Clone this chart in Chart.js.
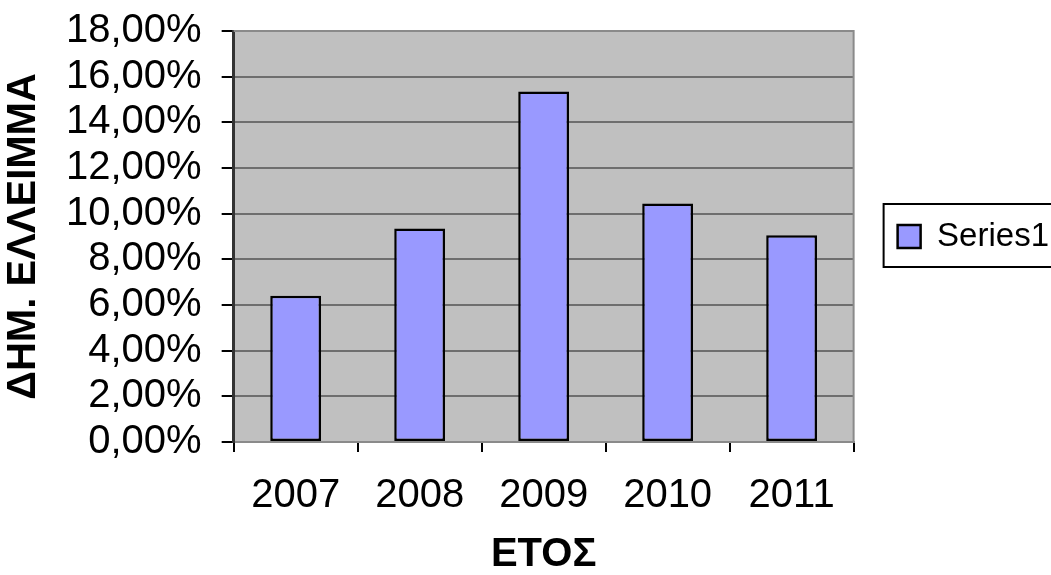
<!DOCTYPE html>
<html>
<head>
<meta charset="utf-8">
<script src="https://cdn.jsdelivr.net/npm/chart.js@4/dist/chart.umd.min.js"></script>
<style>
  html, body { margin: 0; padding: 0; background: #fff; }
  #wrap { width: 1051px; height: 575px; }
</style>
</head>
<body>
<div id="wrap"><canvas id="deficitChart" width="1051" height="575"></canvas></div>
<script>
const years = ["2007", "2008", "2009", "2010", "2011"];
const deficit = [6.4, 9.35, 15.35, 10.45, 9.05]; // %
const yTicks = [0, 2, 4, 6, 8, 10, 12, 14, 16, 18];
const seriesName = "Series1";

const FONT = "'Liberation Sans', Arial, sans-serif";

// grey plot background + frame, and a box round the legend item
const plotBg = {
    id: "plotBg",
    afterLayout(chart) {
        // centre the legend on the plot area, not the whole canvas
        const lg = chart.legend;
        lg.top = chart.chartArea.top;
        lg.bottom = chart.chartArea.bottom;
        lg.height = lg.bottom - lg.top;
    },
    beforeDraw(chart) {
        const { ctx, chartArea: a } = chart;
        ctx.save();
        ctx.fillStyle = "#c0c0c0";
        ctx.fillRect(a.left, a.top, a.right - a.left, a.bottom - a.top);
        ctx.restore();
    },
    afterDraw(chart) {
        const { ctx, chartArea: a } = chart;
        ctx.save();
        ctx.strokeStyle = "#8a8a8a";
        ctx.lineWidth = 2;
        ctx.beginPath();
        ctx.moveTo(a.left, a.top);
        ctx.lineTo(a.right, a.top);
        ctx.lineTo(a.right, a.bottom);
        ctx.stroke();
        const hb = chart.legend.legendHitBoxes[0];
        if (hb) {
            ctx.strokeStyle = "#000";
            ctx.lineWidth = 2;
            ctx.strokeRect(hb.left - 14, hb.top - 16, 200, hb.height + 30);
        }
        ctx.restore();
    },
};

const ctx = document.getElementById("deficitChart").getContext("2d");

const chart = new Chart(ctx, {
    type: "bar",
    data: {
        labels: years,
        datasets: [
            {
                label: seriesName,
                data: deficit,
                backgroundColor: "#9999ff",
                borderColor: "#000000",
                borderWidth: 2.5,
                borderSkipped: false,
                categoryPercentage: 1,
                barPercentage: 0.41,
            },
        ],
    },
    options: {
        responsive: false,
        animation: false,
        layout: { padding: { left: 0, top: 31, right: -8, bottom: -4 } },
        plugins: {
            tooltip: { enabled: false },
            legend: {
                position: "right",
                align: "center",
                labels: {
                    boxWidth: 23,
                    boxHeight: 23,
                    color: "#000",
                    padding: 44,
                    font: { family: FONT, size: 33 },
                },
            },
        },
        scales: {
            x: {
                grid: {
                    display: true,
                    drawOnChartArea: false,
                    color: "#000",
                    lineWidth: 2,
                    tickLength: 10,
                },
                border: { color: "#8a8a8a", width: 2 },
                ticks: {
                    color: "#000",
                    padding: 20,
                    font: { family: FONT, size: 40 },
                },
                title: {
                    display: true,
                    text: "ΕΤΟΣ",
                    color: "#000",
                    padding: { top: -9, bottom: 0 },
                    font: { family: FONT, size: 40, weight: "bold" },
                },
            },
            y: {
                min: 0,
                max: 18,
                afterBuildTicks(axis) {
                    axis.ticks = yTicks.map((v) => ({ value: v }));
                },
                afterFit(axis) {
                    axis.paddingTop = 0;
                },
                grid: {
                    color: "#6e6e6e",
                    lineWidth: 2,
                    tickLength: 12,
                    tickColor: "#000",
                },
                border: { color: "#333", width: 3 },
                ticks: {
                    color: "#000",
                    padding: 20,
                    autoSkip: false,
                    font: { family: FONT, size: 40 },
                    callback: (v) => v.toFixed(2).replace(".", ",") + "%",
                },
                title: {
                    display: true,
                    text: "ΔΗΜ. ΕΛΛΕΙΜΜΑ",
                    color: "#000",
                    padding: { top: 0, bottom: -2 },
                    font: { family: FONT, size: 40, weight: "bold" },
                },
            },
        },
    },
    plugins: [plotBg],
});
</script>
</body>
</html>
